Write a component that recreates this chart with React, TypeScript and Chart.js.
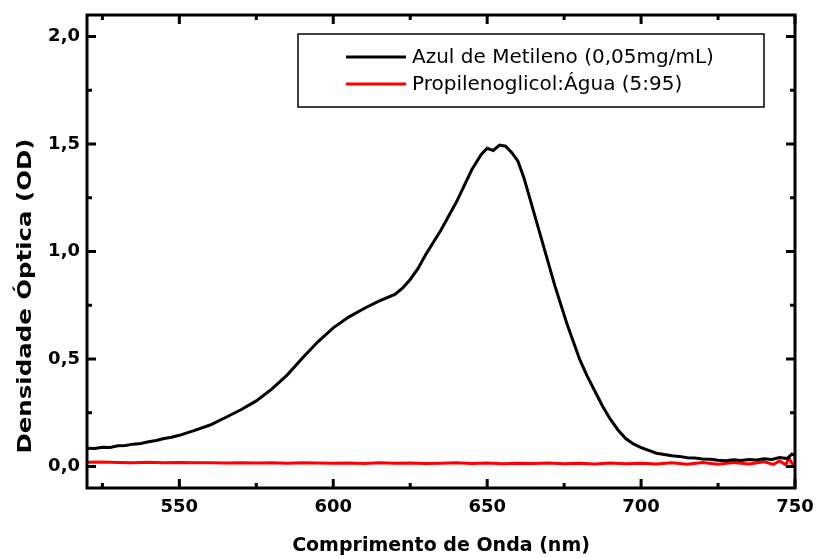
import { useEffect, useRef } from "react";
import { Chart, registerables } from "chart.js";

Chart.register(...registerables);

const blackWavelengths = [
  520, 522.5, 525, 527.5, 530, 532.5, 535, 537.5, 540, 542.5, 545, 547.5, 550, 555, 560, 565, 570, 575, 580, 585, 590,
  595, 600, 605, 610, 615, 620, 622.5, 625, 627.5, 630, 635, 640, 645, 648, 650, 652, 654, 656, 658, 660, 662, 664,
  666, 668, 670, 672, 674, 676, 678, 680, 682.5, 685, 687.5, 690, 692.5, 695, 697.5, 700, 702.5, 705,
  707.5, 710, 712.5, 715, 717.5, 720, 722.5, 725, 727.5, 730, 732.5, 735, 737.5, 740, 742.5, 745,
  747.5, 749, 750,
];
const blackOD = [
  0.085, 0.084, 0.089, 0.088, 0.096, 0.098, 0.104, 0.107, 0.115, 0.121, 0.13, 0.136, 0.145, 0.168, 0.193, 0.228, 0.264, 0.305, 0.36, 0.425, 0.505,
  0.58, 0.645, 0.695, 0.735, 0.77, 0.8, 0.83, 0.87, 0.92, 0.985, 1.1, 1.23, 1.38, 1.45, 1.48, 1.47, 1.495, 1.49, 1.46, 1.42, 1.34, 1.24,
  1.14, 1.04, 0.94, 0.84, 0.75, 0.66, 0.58, 0.5, 0.42, 0.35, 0.28, 0.22, 0.17, 0.13, 0.105, 0.088, 0.075, 0.062,
  0.056, 0.05, 0.047, 0.041, 0.04, 0.035, 0.034, 0.029, 0.027, 0.031, 0.028, 0.032, 0.03, 0.036, 0.033, 0.042,
  0.037, 0.058, 0.05,
];

const redWavelengths = [
  520, 525, 530, 535, 540, 545, 550, 555, 560, 565, 570, 575, 580, 585, 590, 595, 600, 605, 610, 615, 620,
  625, 630, 635, 640, 645, 650, 655, 660, 665, 670, 675, 680, 685, 690, 695, 700, 705, 710, 715, 720,
  725, 730, 735, 740, 743, 745, 747, 748, 749, 750,
];
const redOD = [
  0.02, 0.021, 0.019, 0.018, 0.02, 0.018, 0.019, 0.017, 0.018, 0.016, 0.018, 0.016, 0.017, 0.015, 0.017, 0.016, 0.015, 0.016, 0.014, 0.017, 0.015,
  0.016, 0.014, 0.015, 0.017, 0.014, 0.016, 0.013, 0.015, 0.014, 0.016, 0.013, 0.015, 0.012, 0.016, 0.013, 0.015, 0.012, 0.017, 0.011, 0.018,
  0.01, 0.019, 0.012, 0.022, 0.01, 0.026, 0.008, 0.04, 0.015, 0.005,
];

const seriesLabels = ["Azul de Metileno (0,05mg/mL)", "Propilenoglicol:Água (5:95)"];
const seriesColors = ["#000000", "#ff0000"];
const xTickValues = [550, 600, 650, 700, 750];
const xMinorValues = [525, 575, 625, 675, 725];
const yTickValues = [0, 0.5, 1, 1.5, 2];
const yMinorValues = [0.25, 0.75, 1.25, 1.75];
const xTitle = "Comprimento de Onda (nm)";
const yTitle = "Densidade Óptica (OD)";

const FONT = "'DejaVu Sans', sans-serif";

const framePlugin = {
  id: "frame",
  afterDatasetsDraw(chart: any) {
    const { ctx, chartArea: a, scales } = chart;
    const xs = scales.x;
    const ys = scales.y;
    ctx.save();
    ctx.strokeStyle = "#000";
    ctx.lineWidth = 3;
    ctx.lineCap = "butt";
    ctx.strokeRect(a.left, a.top, a.right - a.left, a.bottom - a.top);
    const drawX = (vals: number[], len: number) => {
      for (const v of vals) {
        const p = xs.getPixelForValue(v);
        ctx.beginPath();
        ctx.moveTo(p, a.bottom);
        ctx.lineTo(p, a.bottom - len);
        ctx.moveTo(p, a.top);
        ctx.lineTo(p, a.top + len);
        ctx.stroke();
      }
    };
    const drawY = (vals: number[], len: number) => {
      for (const v of vals) {
        const p = ys.getPixelForValue(v);
        ctx.beginPath();
        ctx.moveTo(a.left, p);
        ctx.lineTo(a.left + len, p);
        ctx.moveTo(a.right, p);
        ctx.lineTo(a.right - len, p);
        ctx.stroke();
      }
    };
    drawX(xTickValues, 9);
    drawX(xMinorValues, 5);
    drawY(yTickValues, 9);
    drawY(yMinorValues, 5);
    ctx.restore();
  },
};

const legendPlugin = {
  id: "boxLegend",
  afterDraw(chart: any) {
    const { ctx, chartArea: a } = chart;
    const left = a.left + 211;
    const top = a.top + 19;
    const w = 466;
    const h = 73;
    ctx.save();
    ctx.strokeStyle = "#000";
    ctx.lineWidth = 1.5;
    ctx.strokeRect(left, top, w, h);
    ctx.font = `20px ${FONT}`;
    ctx.textBaseline = "middle";
    ctx.textAlign = "left";
    chart.data.datasets.forEach((ds: any, i: number) => {
      const yy = top + 23 + i * 27;
      ctx.strokeStyle = ds.borderColor;
      ctx.lineWidth = 3;
      ctx.beginPath();
      ctx.moveTo(left + 48, yy);
      ctx.lineTo(left + 108, yy);
      ctx.stroke();
      ctx.fillStyle = "#000";
      ctx.fillText(ds.label, left + 114, yy + 1);
    });
    ctx.restore();
  },
};

const yTitlePlugin = {
  id: "yTitle",
  afterDraw(chart: any) {
    const { ctx } = chart;
    ctx.save();
    ctx.font = `bold 20px ${FONT}`;
    const m = ctx.measureText(yTitle).width;
    ctx.translate(26, 296);
    ctx.rotate(-Math.PI / 2);
    ctx.scale(315 / m, 1);
    ctx.fillStyle = "#000";
    ctx.textAlign = "center";
    ctx.textBaseline = "middle";
    ctx.fillText(yTitle, 0, 0);
    ctx.restore();
  },
};

export default function App() {
  const ref = useRef<HTMLCanvasElement | null>(null);
  useEffect(() => {
    document.body.style.margin = "0";
    const canvas = ref.current;
    if (!canvas) return;
    const chart = new Chart(canvas, {
      type: "line",
      data: {
        datasets: [
          {
            label: seriesLabels[0],
            data: blackWavelengths.map((x, i) => ({ x, y: blackOD[i] })),
            borderColor: seriesColors[0],
            backgroundColor: seriesColors[0],
            borderWidth: 3,
            pointRadius: 0,
            tension: 0,
          },
          {
            label: seriesLabels[1],
            data: redWavelengths.map((x, i) => ({ x, y: redOD[i] })),
            borderColor: seriesColors[1],
            backgroundColor: seriesColors[1],
            borderWidth: 3,
            pointRadius: 0,
            tension: 0,
          },
        ],
      },
      options: {
        responsive: false,
        animation: false,
        layout: { padding: { top: 15, right: 22, left: 0, bottom: 0 } },
        plugins: { legend: { display: false }, tooltip: { enabled: false } },
        scales: {
          x: {
            type: "linear",
            min: 520,
            max: 750,
            grid: { display: false, drawTicks: false },
            border: { display: false },
            afterBuildTicks: (s: any) => {
              s.ticks = xTickValues.map((value) => ({ value }));
            },
            afterFit: (s: any) => {
              s.height = 70;
              s.paddingLeft = 0;
              s.paddingRight = 0;
            },
            ticks: {
              color: "#000",
              padding: 9,
              maxRotation: 0,
              font: { family: FONT, weight: "bold", size: 18 },
              callback: (v: any) => String(v),
            },
            title: {
              display: true,
              text: xTitle,
              color: "#000",
              font: { family: FONT, weight: "bold", size: 19 },
              padding: { top: 0, bottom: 1 },
            },
          },
          y: {
            type: "linear",
            min: -0.1,
            max: 2.1,
            grid: { display: false, drawTicks: false },
            border: { display: false },
            afterBuildTicks: (s: any) => {
              s.ticks = yTickValues.map((value) => ({ value }));
            },
            afterFit: (s: any) => {
              s.width = 87;
              s.paddingTop = 0;
              s.paddingBottom = 0;
            },
            ticks: {
              color: "#000",
              padding: 7,
              font: { family: FONT, weight: "bold", size: 18 },
              callback: (v: any) => Number(v).toFixed(1).replace(".", ","),
            },
            title: { display: false },
          },
        },
      },
      plugins: [framePlugin, legendPlugin, yTitlePlugin],
    });
    return () => chart.destroy();
  }, []);
  return (
    <div style={{ width: 817, height: 558, background: "#fff" }}>
      <canvas ref={ref} width={817} height={558} style={{ display: "block" }} />
    </div>
  );
}
